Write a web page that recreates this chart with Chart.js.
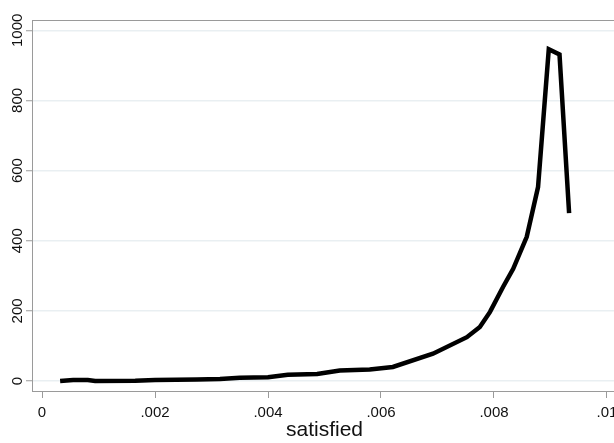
<!DOCTYPE html>
<html>
<head>
<meta charset="utf-8">
<script src="https://cdn.jsdelivr.net/npm/chart.js@4/dist/chart.umd.min.js"></script>
<style>
  html, body { margin: 0; padding: 0; background: #fff; overflow: hidden; }
  #wrap { width: 630px; height: 443px; position: relative; }
</style>
</head>
<body>
<div id="wrap"><canvas id="chart" width="630" height="443"></canvas></div>
<script>
// satisfied (x) vs. estimated density (y)
const satisfied = [0.00032, 0.00055, 0.00081, 0.00094, 0.00165, 0.0020, 0.00274, 0.00315,
  0.0035, 0.0040, 0.00435, 0.00487, 0.00527, 0.0058, 0.00621, 0.00692, 0.00752, 0.00775,
  0.00793, 0.00816, 0.00834, 0.00858, 0.00878, 0.00897, 0.00916, 0.00933];
const density = [0, 3, 3, 0, 1, 3, 4, 6,
  9, 11, 18, 20, 30, 33, 40, 78, 125, 154,
  197, 268, 320, 411, 553, 946, 931, 479];
const xTicks = [0, 0.002, 0.004, 0.006, 0.008, 0.01];
const yTicks = [0, 200, 400, 600, 800, 1000];
const xTitle = 'satisfied';

const FONT = 'Arial, "Liberation Sans", sans-serif';
const fmtX = (v) => (v === 0 ? '0' : String(+v.toFixed(3)).replace(/^0\./, '.'));

// frame round the plot region + rotated y labels (Stata style)
const stataFrame = {
  id: 'stataFrame',
  afterDraw(chart) {
    const { ctx, chartArea: a, scales } = chart;
    ctx.save();
    ctx.strokeStyle = '#9a9a9a';
    ctx.lineWidth = 1;
    ctx.strokeRect(a.left - 0.5, a.top - 0.5, a.right - a.left, a.bottom - a.top + 1);
    ctx.fillStyle = '#111';
    ctx.font = '15px ' + FONT;
    ctx.textAlign = 'center';
    ctx.textBaseline = 'middle';
    yTicks.forEach((v) => {
      const y = scales.y.getPixelForValue(v);
      ctx.save();
      ctx.translate(18, y);
      ctx.rotate(-Math.PI / 2);
      ctx.fillText(String(v), 0, 0);
      ctx.restore();
    });
    ctx.restore();
  }
};

new Chart(document.getElementById('chart'), {
  type: 'line',
  data: {
    datasets: [{
      data: satisfied.map((x, i) => ({ x, y: density[i] })),
      borderColor: '#000',
      borderWidth: 4.5,
      pointRadius: 0,
      tension: 0,
      fill: false
    }]
  },
  options: {
    responsive: false,
    animation: false,
    layout: { padding: { top: 21, right: 14, left: 0, bottom: 0 } },
    plugins: { legend: { display: false }, tooltip: { enabled: false } },
    scales: {
      x: {
        type: 'linear',
        min: -0.00016,
        max: 0.01016,
        afterBuildTicks: (s) => { s.ticks = xTicks.map((v) => ({ value: v })); },
        afterFit: (s) => { s.height = 52; },
        grid: { drawOnChartArea: false, drawTicks: true, tickLength: 7, tickColor: '#9a9a9a', tickWidth: 1 },
        border: { display: false },
        ticks: { color: '#111', font: { family: FONT, size: 15 }, padding: 6, maxRotation: 0, callback: fmtX },
        title: { display: true, text: xTitle, color: '#111', font: { family: FONT, size: 21 }, padding: { top: 0, bottom: 0 } }
      },
      y: {
        type: 'linear',
        min: -28.5,
        max: 1026.5,
        afterBuildTicks: (s) => { s.ticks = yTicks.map((v) => ({ value: v })); },
        afterFit: (s) => { s.width = 33; },
        grid: { color: '#e9eff2', lineWidth: 1.5, drawTicks: true, tickLength: 7, tickColor: '#9a9a9a', tickWidth: 1 },
        border: { display: false },
        ticks: { display: false }
      }
    }
  },
  plugins: [stataFrame]
});
</script>
</body>
</html>
